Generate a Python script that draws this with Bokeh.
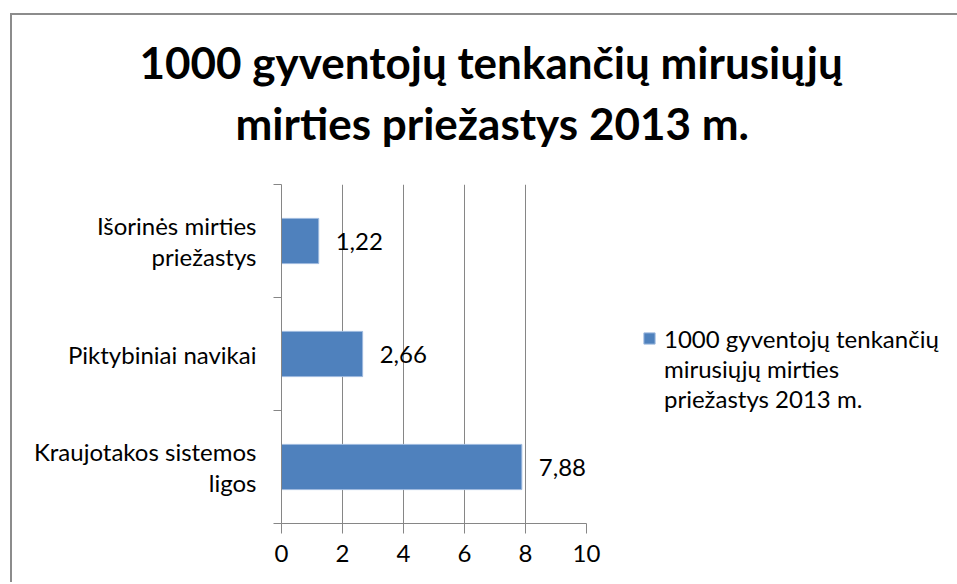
from bokeh.plotting import figure
from bokeh.models import (ColumnDataSource, LabelSet, FixedTicker, Legend, LegendItem,
                          Title, LinearAxis)
from bokeh.core.properties import value
from bokeh.embed import file_html
from bokeh.resources import INLINE

# ---- data ----
categories = ["Kraujotakos sistemos\nligos", "Piktybiniai navikai", "Išorinės mirties\npriežastys"]
values = [7.88, 2.66, 1.22]
value_labels = ["7,88", "2,66", "1,22"]
series_lines = ["1000 gyventojų tenkančių", "mirusiųjų mirties", "priežastys 2013 m."]
title_lines = ["1000 gyventojų tenkančių mirusiųjų", "mirties priežastys 2013 m."]
x_ticks = [0, 2, 4, 6, 8, 10]

FONT = "Lato"
FS = "24px"
BAR = "#4F81BD"
GRID = "#868686"

pos = list(range(len(categories)))
bounds = [i - 0.5 for i in range(len(categories) + 1)]
src = ColumnDataSource(dict(y=pos, v=values, lab=value_labels))

p = figure(frame_width=305, frame_height=339, output_backend="svg", toolbar_location=None,
           x_range=(0, 10), y_range=(-0.5, len(categories) - 0.5), title=None,
           min_border_left=269, min_border_right=371,
           min_border_top=169, min_border_bottom=59)
p.margin = (13, 0, 0, 10)
p.styles = {"border-top": "2px solid #8C8C8C", "border-left": "2px solid #8C8C8C"}
p.outline_line_color = None
p.background_fill_color = "white"
p.border_fill_color = "white"

r = p.hbar(y="y", right="v", left=0, height=0.4, source=src,
           fill_color=BAR, line_color="#9DB9DE", line_width=1)
ghost = p.hbar(y=[], right=[], left=0, height=0.4, fill_alpha=0, line_alpha=0)

p.add_layout(LabelSet(x="v", y="y", text="lab", source=src, x_offset=17,
                      text_baseline="middle", text_align="left",
                      text_font=value(FONT), text_font_size=value(FS),
                      text_color="#000000"))

# x axis (bottom)
xa = p.below[0]
xa.ticker = FixedTicker(ticks=x_ticks)
xa.axis_line_color = GRID
xa.major_tick_line_color = GRID
xa.major_tick_out = 10
xa.major_tick_in = 0
xa.minor_tick_line_color = None
xa.major_label_text_font = FONT
xa.major_label_text_font_size = FS
xa.major_label_text_color = "#000000"
xa.major_label_standoff = 11

# spacer between plot and title (invisible tick, empty label)
spacer = LinearAxis(ticker=FixedTicker(ticks=[5]), axis_line_color=None,
                    major_label_overrides={5: ""}, major_label_text_font_size="1px",
                    major_tick_line_color=None, minor_tick_line_color=None,
                    major_tick_out=36, major_tick_in=0, major_label_standoff=0)
p.add_layout(spacer, "above")

# title: two centred lines
for txt, off, so in [(title_lines[1], -46, 0), (title_lines[0], -142, 14)]:
    p.add_layout(Title(text=txt, align="left", offset=off, standoff=so,
                       text_font=FONT, text_font_size="44px", text_font_style="bold",
                       text_color="#000000"), "above")

# y axis: labels at category centres, ticks at category boundaries
ya = p.left[0]
ya.ticker = FixedTicker(ticks=pos, minor_ticks=bounds)
ya.major_label_overrides = {i: c for i, c in zip(pos, categories)}
ya.axis_line_color = GRID
ya.major_tick_line_color = None
ya.major_tick_out = 0
ya.major_tick_in = 0
ya.minor_tick_line_color = GRID
ya.minor_tick_out = 8
ya.minor_tick_in = 0
ya.major_label_text_align = "center"
ya.major_label_standoff = 17
ya.major_label_text_font = FONT
ya.major_label_text_font_size = FS
ya.major_label_text_color = "#000000"
ya.major_label_text_line_height = 1.07

p.xgrid.ticker = FixedTicker(ticks=x_ticks)
p.xgrid.grid_line_color = GRID
p.ygrid.grid_line_color = None

# legend (one series, label wrapped over three lines)
items = [LegendItem(label=series_lines[0], renderers=[r])] + \
        [LegendItem(label=t, renderers=[ghost]) for t in series_lines[1:]]
legend = Legend(items=items, location=(56, 110), margin=0, padding=0, spacing=0,
                label_standoff=8, label_height=30,
                label_text_font=FONT, label_text_font_size=FS,
                label_text_color="#000000",
                glyph_width=14, glyph_height=14,
                border_line_color=None, background_fill_alpha=0)
p.add_layout(legend, "right")

open("out.html", "w").write(file_html(p, INLINE))
